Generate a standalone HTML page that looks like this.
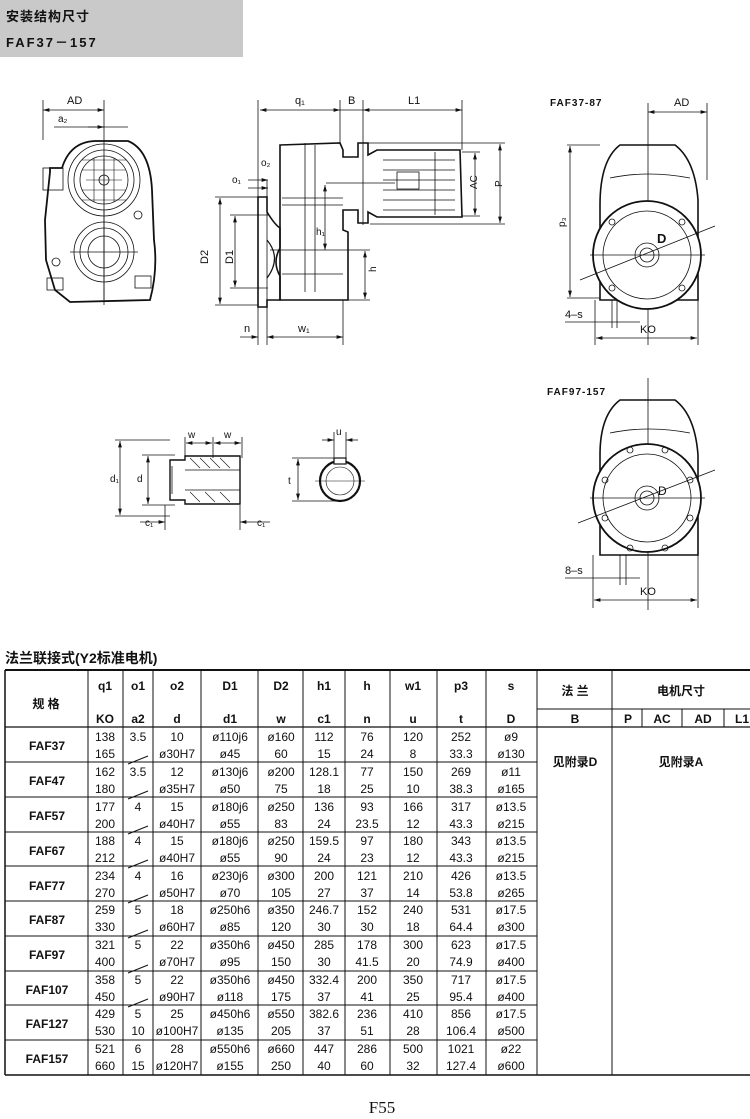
<!DOCTYPE html>
<html><head><meta charset="utf-8"><style>
html,body{margin:0;padding:0;background:#fff;}
svg{display:block;}
text{font-family:"Liberation Sans","Noto Sans CJK SC",sans-serif;fill:#111;}
</style></head><body>
<svg width="750" height="1119" viewBox="0 0 750 1119" xmlns="http://www.w3.org/2000/svg">
<defs>
<marker id="a" viewBox="0 0 10 6" refX="10" refY="3" markerWidth="8" markerHeight="5" orient="auto-start-reverse"><path d="M0,0L10,3L0,6z" fill="#111"/></marker>
</defs>
<!-- header box -->
<rect x="0" y="0" width="243" height="57" fill="#c9c9c9"/>
<text x="6" y="21" font-size="13" font-weight="bold" letter-spacing="1">安装结构尺寸</text>
<text x="6" y="47" font-size="13" font-weight="bold" letter-spacing="2">FAF37－157</text>

<g stroke="#111" fill="none" stroke-width="0.8">
<!-- LEFT VIEW -->
<line x1="43" y1="100" x2="43" y2="140"/><line x1="104" y1="100" x2="104" y2="300"/>
<line x1="43" y1="110" x2="104" y2="110" marker-start="url(#a)" marker-end="url(#a)"/>
<line x1="54" y1="127" x2="128" y2="127"/>
<line x1="88" y1="127" x2="104" y2="127" marker-end="url(#a)"/>
<path d="M50,172 L50,168 L62,168 Q70,142 95,141 L128,141 Q150,150 152,190 L154,240 Q158,270 150,300 L70,302 L55,290 L46,260 L45,220 Z" stroke-width="1.8"/>
<circle cx="104" cy="180" r="36"/><circle cx="104" cy="180" r="30"/>
<circle cx="104" cy="180" r="24"/><circle cx="104" cy="180" r="5"/>
<path d="M82,170H126M82,160H126M82,190H126M82,200H126M94,158V202M114,158V202M86,180H122M104,158V202" stroke-width="0.6"/>
<circle cx="104" cy="252" r="30"/><circle cx="104" cy="252" r="24"/><circle cx="104" cy="252" r="16"/>
<line x1="70" y1="252" x2="138" y2="252"/><line x1="104" y1="210" x2="104" y2="305"/>
<rect x="43" y="168" width="20" height="22"/><circle cx="138" cy="215" r="4"/><circle cx="56" cy="262" r="4"/>
<rect x="47" y="278" width="16" height="12"/><rect x="135" y="276" width="16" height="12"/>
<!-- MIDDLE VIEW -->
<line x1="258" y1="100" x2="258" y2="345"/><line x1="340" y1="100" x2="340" y2="143"/>
<line x1="363" y1="100" x2="363" y2="225"/><line x1="462" y1="100" x2="462" y2="150"/>
<line x1="260" y1="110" x2="340" y2="110" marker-start="url(#a)" marker-end="url(#a)"/>
<line x1="363" y1="110" x2="462" y2="110" marker-start="url(#a)" marker-end="url(#a)"/>
<line x1="340" y1="110" x2="363" y2="110"/>
<path d="M280,145 L340,143 L343,150 L343,157 L358,157 L358,143 L368,143 L368,155 L377,150 L460,150 L462,217 L377,217 L368,212 L368,223 L358,223 L358,210 L343,210 L343,230 L348,232 L348,300 L280,300 L280,276 Q272,262 280,248 Z" stroke-width="1.6"/>
<path d="M258,197 L267,197 L267,212 Q275,225 280,228 L280,300 L267,300 L267,307 L258,307 Z" stroke-width="1.6"/>
<path d="M267,240 Q282,258 267,278" stroke-width="1.2"/>
<line x1="305" y1="143" x2="305" y2="292"/><line x1="315" y1="145" x2="315" y2="292"/>
<line x1="282" y1="198" x2="343" y2="198"/><line x1="282" y1="205" x2="343" y2="205"/>
<line x1="282" y1="274" x2="343" y2="274"/>
<path d="M383,160H455M383,170H455M383,180H455M383,190H455M383,200H455M383,210H455M435,152V215"/>
<rect x="397" y="172" width="22" height="17"/>
<line x1="326" y1="183" x2="395" y2="183"/>
<line x1="365" y1="143" x2="505" y2="143"/><line x1="370" y1="224" x2="505" y2="224"/>
<line x1="462" y1="152" x2="480" y2="152"/><line x1="462" y1="216" x2="480" y2="216"/>
<line x1="475" y1="153" x2="475" y2="215" marker-start="url(#a)" marker-end="url(#a)"/>
<line x1="500" y1="144" x2="500" y2="223" marker-start="url(#a)" marker-end="url(#a)"/>
<line x1="215" y1="197" x2="258" y2="197"/><line x1="215" y1="305" x2="258" y2="305"/>
<line x1="220" y1="198" x2="220" y2="304" marker-start="url(#a)" marker-end="url(#a)"/>
<line x1="230" y1="215" x2="268" y2="215"/><line x1="230" y1="288" x2="268" y2="288"/>
<line x1="235" y1="216" x2="235" y2="287" marker-start="url(#a)" marker-end="url(#a)"/>
<line x1="325" y1="185" x2="325" y2="250" marker-start="url(#a)" marker-end="url(#a)"/>
<line x1="270" y1="250" x2="370" y2="250"/><line x1="345" y1="300" x2="370" y2="300"/>
<line x1="365" y1="251" x2="365" y2="299" marker-start="url(#a)" marker-end="url(#a)"/>
<line x1="248" y1="180" x2="268" y2="180" marker-end="url(#a)"/>
<line x1="248" y1="188" x2="268" y2="188" marker-end="url(#a)"/>
<line x1="267" y1="180" x2="267" y2="345"/><line x1="343" y1="300" x2="343" y2="345"/>
<line x1="240" y1="337" x2="258" y2="337" marker-end="url(#a)"/>
<line x1="267" y1="337" x2="343" y2="337" marker-start="url(#a)" marker-end="url(#a)"/>
<!-- RIGHT VIEW 1 -->
<line x1="648" y1="103" x2="648" y2="345"/><line x1="707" y1="103" x2="707" y2="180"/>
<line x1="648" y1="112" x2="707" y2="112" marker-start="url(#a)" marker-end="url(#a)"/>
<path d="M600,300 L600,205 Q600,160 620,145 L675,145 Q695,160 698,200 L698,300 Z" stroke-width="1.6"/>
<path d="M610,178 Q648,170 690,178" stroke-width="0.8"/>
<circle cx="647" cy="255" r="54" fill="#fff" stroke-width="1.8"/>
<circle cx="647" cy="255" r="44"/><circle cx="647" cy="255" r="12"/><circle cx="647" cy="255" r="7"/>
<line x1="580" y1="280" x2="715" y2="226"/><line x1="590" y1="255" x2="705" y2="255"/>
<circle cx="612" cy="222" r="3"/><circle cx="682" cy="222" r="3"/><circle cx="612" cy="288" r="3"/><circle cx="682" cy="288" r="3"/>
<line x1="567" y1="145" x2="600" y2="145"/><line x1="567" y1="298" x2="600" y2="298"/>
<line x1="570" y1="146" x2="570" y2="297" marker-start="url(#a)" marker-end="url(#a)"/>
<line x1="595" y1="300" x2="595" y2="345"/><line x1="698" y1="300" x2="698" y2="345"/>
<line x1="596" y1="338" x2="697" y2="338" marker-start="url(#a)" marker-end="url(#a)"/>
<line x1="565" y1="322" x2="640" y2="322"/>
<line x1="612" y1="300" x2="612" y2="328"/><line x1="617" y1="300" x2="617" y2="328"/>
<!-- RIGHT VIEW 2 -->
<line x1="648" y1="378" x2="648" y2="610"/>
<path d="M600,555 L600,455 Q600,415 620,400 L675,400 Q695,415 698,455 L698,555 Z" stroke-width="1.6"/>
<path d="M610,433 Q648,425 690,433"/>
<circle cx="647" cy="498" r="54" fill="#fff" stroke-width="1.8"/>
<circle cx="647" cy="498" r="44"/><circle cx="647" cy="498" r="12"/><circle cx="647" cy="498" r="7"/>
<line x1="578" y1="523" x2="715" y2="470"/><line x1="590" y1="498" x2="705" y2="498"/>
<circle cx="630" cy="450" r="3"/><circle cx="665" cy="450" r="3"/><circle cx="605" cy="480" r="3"/><circle cx="690" cy="480" r="3"/>
<circle cx="605" cy="518" r="3"/><circle cx="690" cy="518" r="3"/><circle cx="630" cy="548" r="3"/><circle cx="665" cy="548" r="3"/>
<line x1="593" y1="555" x2="593" y2="608"/><line x1="698" y1="555" x2="698" y2="608"/>
<line x1="594" y1="600" x2="697" y2="600" marker-start="url(#a)" marker-end="url(#a)"/>
<line x1="565" y1="578" x2="640" y2="578"/>
<line x1="620" y1="555" x2="620" y2="585"/><line x1="626" y1="555" x2="626" y2="585"/>
<!-- SHAFT VIEW -->
<path d="M170,460 L185,460 L185,456 L240,456 L240,504 L185,504 L185,500 L170,500 Z" stroke-width="1.4"/>
<path d="M185,470 L240,470 M185,490 L240,490 M172,466 L172,494"/>
<path d="M190,458 L200,468 M200,458 L210,468 M210,458 L220,468 M220,458 L230,468 M190,492 L200,502 M205,492 L215,502 M220,492 L230,502" stroke-width="0.6"/>
<line x1="185" y1="437" x2="185" y2="458"/><line x1="213" y1="437" x2="213" y2="458"/><line x1="242" y1="437" x2="242" y2="458"/>
<line x1="186" y1="443" x2="212" y2="443" marker-start="url(#a)" marker-end="url(#a)"/>
<line x1="214" y1="443" x2="241" y2="443" marker-start="url(#a)" marker-end="url(#a)"/>
<line x1="115" y1="440" x2="170" y2="440"/><line x1="115" y1="516" x2="170" y2="516"/>
<line x1="120" y1="441" x2="120" y2="515" marker-start="url(#a)" marker-end="url(#a)"/>
<line x1="142" y1="455" x2="175" y2="455"/><line x1="142" y1="505" x2="175" y2="505"/>
<line x1="148" y1="456" x2="148" y2="504" marker-start="url(#a)" marker-end="url(#a)"/>
<line x1="165" y1="505" x2="165" y2="530"/><line x1="240" y1="505" x2="240" y2="530"/>
<line x1="140" y1="522" x2="165" y2="522" marker-end="url(#a)"/>
<line x1="240" y1="522" x2="270" y2="522" marker-start="url(#a)"/>
<circle cx="340" cy="481" r="20" stroke-width="2.2"/><circle cx="340" cy="481" r="14" stroke-width="0.6"/>
<rect x="334" y="458" width="12" height="6" fill="#fff" stroke-width="1.2"/>
<line x1="334" y1="432" x2="334" y2="458"/><line x1="346" y1="432" x2="346" y2="458"/>
<line x1="322" y1="440" x2="334" y2="440" marker-end="url(#a)"/><line x1="346" y1="440" x2="358" y2="440" marker-start="url(#a)"/>
<line x1="292" y1="458" x2="334" y2="458"/><line x1="292" y1="501" x2="340" y2="501"/>
<line x1="298" y1="459" x2="298" y2="500" marker-start="url(#a)" marker-end="url(#a)"/>
<line x1="315" y1="481" x2="365" y2="481" stroke-width="0.5"/>
</g>
<g font-size="11">
<text x="67" y="104">AD</text><text x="58" y="122" font-size="10">a₂</text>
<text x="295" y="104">q₁</text><text x="348" y="104">B</text><text x="408" y="104">L1</text>
<text x="261" y="166" font-size="10">o₂</text><text x="232" y="183" font-size="10">o₁</text>
<text x="316" y="235" font-size="10">h₁</text><text x="368" y="272" font-size="10" transform="rotate(-90 372 268)">h</text>
<text x="468" y="190" font-size="10" transform="rotate(-90 472 185)">AC</text>
<text x="495" y="190" font-size="10" transform="rotate(-90 497 185)">P</text>
<text x="198" y="262" transform="rotate(-90 204 258)">D2</text>
<text x="223" y="262" transform="rotate(-90 229 258)">D1</text>
<text x="244" y="332">n</text><text x="298" y="332">w₁</text>
<text x="550" y="106" font-size="10" font-weight="bold" letter-spacing="1">FAF37-87</text>
<text x="674" y="106">AD</text>
<text x="557" y="225" font-size="10" transform="rotate(-90 562 222)">p₃</text>
<text x="657" y="243" font-size="13" font-weight="bold">D</text>
<text x="565" y="318">4–s</text><text x="640" y="333">KO</text>
<text x="547" y="395" font-size="10" font-weight="bold" letter-spacing="1">FAF97-157</text>
<text x="658" y="495" font-size="12">D</text>
<text x="565" y="574">8–s</text><text x="640" y="595">KO</text>
<text x="188" y="438" font-size="10">w</text><text x="224" y="438" font-size="10">w</text>
<text x="110" y="482" font-size="10">d₁</text><text x="137" y="482" font-size="10">d</text>
<text x="145" y="526" font-size="10">c₁</text><text x="257" y="526" font-size="10">c₁</text>
<text x="336" y="435" font-size="10">u</text><text x="288" y="484" font-size="10">t</text>
</g>

<!-- TABLE -->
<text x="5" y="663" font-size="14" font-weight="bold">法兰联接式(Y2标准电机)</text>
<g stroke="#111" stroke-width="1" fill="none">
<line x1="5" y1="670" x2="750" y2="670" stroke-width="2"/>
<line x1="5" y1="670" x2="5" y2="1075" stroke-width="1.5"/>
<line x1="537" y1="709" x2="750" y2="709"/>
<line x1="5" y1="727" x2="750" y2="727" stroke-width="1.3"/>
<line x1="5" y1="1075" x2="750" y2="1075" stroke-width="1.5"/>
<path d="M88,670V1075M123,670V1075M153,670V1075M201,670V1075M258,670V1075M303,670V1075M345,670V1075M390,670V1075M437,670V1075M486,670V1075M537,670V1075M612,670V1075M642,709V727M682,709V727M724,709V727"/>
<path d="M5,762H537M5,797H537M5,832H537M5,866H537M5,901H537M5,936H537M5,971H537M5,1005H537M5,1040H537"/>
<path d="M128,764L148,756M128,799L148,791M128,834L148,826M128,868L148,860M128,903L148,895M128,938L148,930M128,973L148,965M128,1007L148,999"/>
</g>
<g font-size="12" font-weight="bold" text-anchor="middle">
<text x="46" y="708">规 格</text>
<text x="105" y="690">q1</text><text x="138" y="690">o1</text><text x="177" y="690">o2</text><text x="230" y="690">D1</text><text x="281" y="690">D2</text><text x="324" y="690">h1</text><text x="367" y="690">h</text><text x="413" y="690">w1</text><text x="461" y="690">p3</text><text x="511" y="690">s</text>
<text x="105" y="723">KO</text><text x="138" y="723">a2</text><text x="177" y="723">d</text><text x="230" y="723">d1</text><text x="281" y="723">w</text><text x="324" y="723">c1</text><text x="367" y="723">n</text><text x="413" y="723">u</text><text x="461" y="723">t</text><text x="511" y="723">D</text>
<text x="575" y="695">法 兰</text><text x="681" y="695">电机尺寸</text>
<text x="575" y="723">B</text><text x="628" y="723">P</text><text x="662" y="723">AC</text><text x="703" y="723">AD</text><text x="742" y="723">L1</text>
<text x="575" y="766">见附录D</text><text x="681" y="766">见附录A</text>
<text x="47" y="750">FAF37</text><text x="47" y="785">FAF47</text><text x="47" y="820">FAF57</text><text x="47" y="855">FAF67</text><text x="47" y="890">FAF77</text><text x="47" y="924">FAF87</text><text x="47" y="959">FAF97</text><text x="47" y="994">FAF107</text><text x="47" y="1028">FAF127</text><text x="47" y="1063">FAF157</text>
</g>
<g font-size="12" text-anchor="middle">
<text y="741"><tspan x="105">138</tspan><tspan x="138">3.5</tspan><tspan x="177">10</tspan><tspan x="230">ø110j6</tspan><tspan x="281">ø160</tspan><tspan x="324">112</tspan><tspan x="367">76</tspan><tspan x="413">120</tspan><tspan x="461">252</tspan><tspan x="511">ø9</tspan></text>
<text y="758"><tspan x="105">165</tspan><tspan x="177">ø30H7</tspan><tspan x="230">ø45</tspan><tspan x="281">60</tspan><tspan x="324">15</tspan><tspan x="367">24</tspan><tspan x="413">8</tspan><tspan x="461">33.3</tspan><tspan x="511">ø130</tspan></text>
<text y="776"><tspan x="105">162</tspan><tspan x="138">3.5</tspan><tspan x="177">12</tspan><tspan x="230">ø130j6</tspan><tspan x="281">ø200</tspan><tspan x="324">128.1</tspan><tspan x="367">77</tspan><tspan x="413">150</tspan><tspan x="461">269</tspan><tspan x="511">ø11</tspan></text>
<text y="793"><tspan x="105">180</tspan><tspan x="177">ø35H7</tspan><tspan x="230">ø50</tspan><tspan x="281">75</tspan><tspan x="324">18</tspan><tspan x="367">25</tspan><tspan x="413">10</tspan><tspan x="461">38.3</tspan><tspan x="511">ø165</tspan></text>
<text y="811"><tspan x="105">177</tspan><tspan x="138">4</tspan><tspan x="177">15</tspan><tspan x="230">ø180j6</tspan><tspan x="281">ø250</tspan><tspan x="324">136</tspan><tspan x="367">93</tspan><tspan x="413">166</tspan><tspan x="461">317</tspan><tspan x="511">ø13.5</tspan></text>
<text y="828"><tspan x="105">200</tspan><tspan x="177">ø40H7</tspan><tspan x="230">ø55</tspan><tspan x="281">83</tspan><tspan x="324">24</tspan><tspan x="367">23.5</tspan><tspan x="413">12</tspan><tspan x="461">43.3</tspan><tspan x="511">ø215</tspan></text>
<text y="845"><tspan x="105">188</tspan><tspan x="138">4</tspan><tspan x="177">15</tspan><tspan x="230">ø180j6</tspan><tspan x="281">ø250</tspan><tspan x="324">159.5</tspan><tspan x="367">97</tspan><tspan x="413">180</tspan><tspan x="461">343</tspan><tspan x="511">ø13.5</tspan></text>
<text y="862"><tspan x="105">212</tspan><tspan x="177">ø40H7</tspan><tspan x="230">ø55</tspan><tspan x="281">90</tspan><tspan x="324">24</tspan><tspan x="367">23</tspan><tspan x="413">12</tspan><tspan x="461">43.3</tspan><tspan x="511">ø215</tspan></text>
<text y="880"><tspan x="105">234</tspan><tspan x="138">4</tspan><tspan x="177">16</tspan><tspan x="230">ø230j6</tspan><tspan x="281">ø300</tspan><tspan x="324">200</tspan><tspan x="367">121</tspan><tspan x="413">210</tspan><tspan x="461">426</tspan><tspan x="511">ø13.5</tspan></text>
<text y="897"><tspan x="105">270</tspan><tspan x="177">ø50H7</tspan><tspan x="230">ø70</tspan><tspan x="281">105</tspan><tspan x="324">27</tspan><tspan x="367">37</tspan><tspan x="413">14</tspan><tspan x="461">53.8</tspan><tspan x="511">ø265</tspan></text>
<text y="914"><tspan x="105">259</tspan><tspan x="138">5</tspan><tspan x="177">18</tspan><tspan x="230">ø250h6</tspan><tspan x="281">ø350</tspan><tspan x="324">246.7</tspan><tspan x="367">152</tspan><tspan x="413">240</tspan><tspan x="461">531</tspan><tspan x="511">ø17.5</tspan></text>
<text y="931"><tspan x="105">330</tspan><tspan x="177">ø60H7</tspan><tspan x="230">ø85</tspan><tspan x="281">120</tspan><tspan x="324">30</tspan><tspan x="367">30</tspan><tspan x="413">18</tspan><tspan x="461">64.4</tspan><tspan x="511">ø300</tspan></text>
<text y="949"><tspan x="105">321</tspan><tspan x="138">5</tspan><tspan x="177">22</tspan><tspan x="230">ø350h6</tspan><tspan x="281">ø450</tspan><tspan x="324">285</tspan><tspan x="367">178</tspan><tspan x="413">300</tspan><tspan x="461">623</tspan><tspan x="511">ø17.5</tspan></text>
<text y="966"><tspan x="105">400</tspan><tspan x="177">ø70H7</tspan><tspan x="230">ø95</tspan><tspan x="281">150</tspan><tspan x="324">30</tspan><tspan x="367">41.5</tspan><tspan x="413">20</tspan><tspan x="461">74.9</tspan><tspan x="511">ø400</tspan></text>
<text y="984"><tspan x="105">358</tspan><tspan x="138">5</tspan><tspan x="177">22</tspan><tspan x="230">ø350h6</tspan><tspan x="281">ø450</tspan><tspan x="324">332.4</tspan><tspan x="367">200</tspan><tspan x="413">350</tspan><tspan x="461">717</tspan><tspan x="511">ø17.5</tspan></text>
<text y="1001"><tspan x="105">450</tspan><tspan x="177">ø90H7</tspan><tspan x="230">ø118</tspan><tspan x="281">175</tspan><tspan x="324">37</tspan><tspan x="367">41</tspan><tspan x="413">25</tspan><tspan x="461">95.4</tspan><tspan x="511">ø400</tspan></text>
<text y="1018"><tspan x="105">429</tspan><tspan x="138">5</tspan><tspan x="177">25</tspan><tspan x="230">ø450h6</tspan><tspan x="281">ø550</tspan><tspan x="324">382.6</tspan><tspan x="367">236</tspan><tspan x="413">410</tspan><tspan x="461">856</tspan><tspan x="511">ø17.5</tspan></text>
<text y="1035"><tspan x="105">530</tspan><tspan x="138">10</tspan><tspan x="177">ø100H7</tspan><tspan x="230">ø135</tspan><tspan x="281">205</tspan><tspan x="324">37</tspan><tspan x="367">51</tspan><tspan x="413">28</tspan><tspan x="461">106.4</tspan><tspan x="511">ø500</tspan></text>
<text y="1053"><tspan x="105">521</tspan><tspan x="138">6</tspan><tspan x="177">28</tspan><tspan x="230">ø550h6</tspan><tspan x="281">ø660</tspan><tspan x="324">447</tspan><tspan x="367">286</tspan><tspan x="413">500</tspan><tspan x="461">1021</tspan><tspan x="511">ø22</tspan></text>
<text y="1070"><tspan x="105">660</tspan><tspan x="138">15</tspan><tspan x="177">ø120H7</tspan><tspan x="230">ø155</tspan><tspan x="281">250</tspan><tspan x="324">40</tspan><tspan x="367">60</tspan><tspan x="413">32</tspan><tspan x="461">127.4</tspan><tspan x="511">ø600</tspan></text>
</g>
<text x="382" y="1113" font-size="17" text-anchor="middle" style="font-family:'Liberation Serif',serif">F55</text>
</svg>
</body></html>
